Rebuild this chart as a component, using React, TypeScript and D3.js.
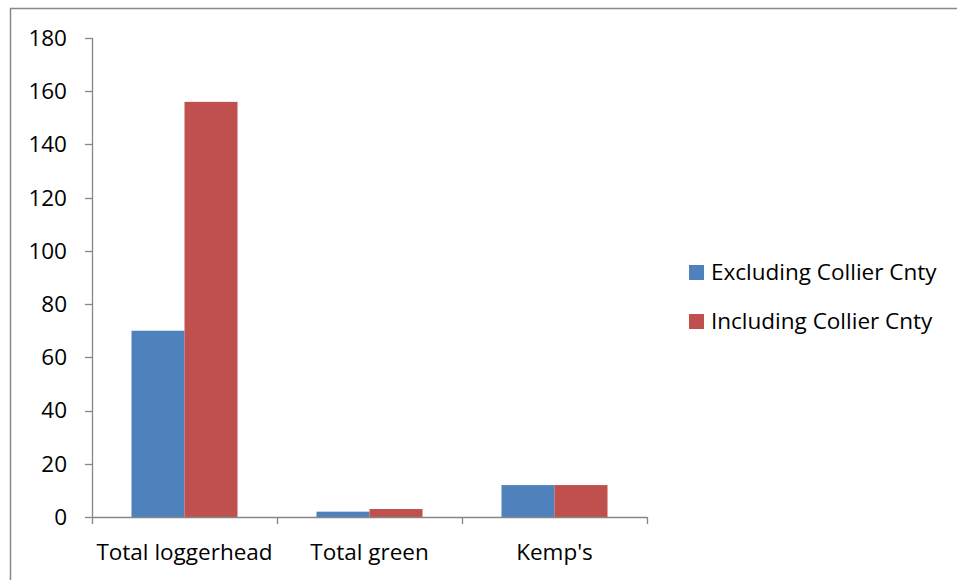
import React, { useRef, useEffect } from 'react';
import * as d3 from 'd3';

const categories = ['Total loggerhead', 'Total green', "Kemp's"];
const seriesNames = ['Excluding Collier Cnty', 'Including Collier Cnty'];
const excluding = [70, 2, 12];
const including = [156, 3, 12];
const yTicks = [0, 20, 40, 60, 80, 100, 120, 140, 160, 180];

const colors = ['#4F81BD', '#C0504D'];
const font = '"Open Sans", sans-serif';
const fontSize = 22.5;

const App: React.FC = () => {
  const svgRef = useRef<SVGSVGElement>(null);

  useEffect(() => {
    if (!svgRef.current) return;
    const width = 957;
    const height = 580;
    const plot = { left: 92, right: 647, top: 38, bottom: 517 };

    const svg = d3.select(svgRef.current)
      .attr('width', width)
      .attr('height', height);
    svg.selectAll('*').remove();

    svg.append('rect').attr('width', width).attr('height', height).attr('fill', '#fff');

    // chart frame (only top and left edges visible)
    svg.append('path')
      .attr('d', `M10.5,${height}V8.5H${width}`)
      .attr('fill', 'none')
      .attr('stroke', '#898989')
      .attr('stroke-width', 1.5);

    const x = d3.scaleBand<string>()
      .domain(categories)
      .range([plot.left, plot.right])
      .paddingInner(0.427)
      .paddingOuter(0.2135);

    const xSub = d3.scaleBand<number>()
      .domain([0, 1])
      .range([0, x.bandwidth()]);

    const y = d3.scaleLinear().domain([0, 180]).range([plot.bottom, plot.top]);

    const series = [excluding, including];

    const bars = svg.append('g');
    series.forEach((vals, si) => {
      bars.selectAll(`rect.s${si}`)
        .data(vals)
        .enter()
        .append('rect')
        .attr('class', `s${si}`)
        .attr('x', (_, i) => (x(categories[i]) as number) + (xSub(si) as number))
        .attr('y', d => y(d))
        .attr('width', xSub.bandwidth())
        .attr('height', d => y(0) - y(d))
        .attr('fill', colors[si]);
    });

    const axisColor = '#868686';

    // y axis
    const yAxis = svg.append('g');
    yAxis.append('line')
      .attr('x1', plot.left + 0.5).attr('x2', plot.left + 0.5)
      .attr('y1', y(180)).attr('y2', y(0))
      .attr('stroke', axisColor).attr('stroke-width', 1.3);
    yAxis.selectAll('line.tick')
      .data(yTicks)
      .enter()
      .append('line')
      .attr('class', 'tick')
      .attr('x1', plot.left - 7).attr('x2', plot.left + 0.5)
      .attr('y1', d => Math.round(y(d)) + 0.5).attr('y2', d => Math.round(y(d)) + 0.5)
      .attr('stroke', axisColor).attr('stroke-width', 1.3);
    yAxis.selectAll('text')
      .data(yTicks)
      .enter()
      .append('text')
      .attr('x', 67)
      .attr('y', d => y(d))
      .attr('dy', '0.35em')
      .attr('text-anchor', 'end')
      .attr('font-family', font)
      .attr('font-size', fontSize)
      .attr('fill', '#000')
      .text(d => d);

    // x axis
    const xAxis = svg.append('g');
    xAxis.append('line')
      .attr('x1', plot.left).attr('x2', plot.right)
      .attr('y1', plot.bottom + 0.5).attr('y2', plot.bottom + 0.5)
      .attr('stroke', axisColor).attr('stroke-width', 1.3);
    const bounds = [...categories.map(c => (x(c) as number) - x.step() * 0.2135), plot.right];
    xAxis.selectAll('line.tick')
      .data(bounds)
      .enter()
      .append('line')
      .attr('class', 'tick')
      .attr('x1', d => Math.round(d) + 0.5).attr('x2', d => Math.round(d) + 0.5)
      .attr('y1', plot.bottom).attr('y2', plot.bottom + 7)
      .attr('stroke', axisColor).attr('stroke-width', 1.3);
    xAxis.selectAll('text')
      .data(categories)
      .enter()
      .append('text')
      .attr('x', d => (x(d) as number) + x.bandwidth() / 2)
      .attr('y', 560)
      .attr('text-anchor', 'middle')
      .attr('font-family', font)
      .attr('font-size', fontSize)
      .attr('fill', '#000')
      .text(d => d);

    // legend
    const legend = svg.append('g');
    seriesNames.forEach((name, i) => {
      const cy = 272 + i * 49;
      legend.append('rect')
        .attr('x', 689).attr('y', cy - 7)
        .attr('width', 15).attr('height', 15)
        .attr('fill', colors[i]);
      legend.append('text')
        .attr('x', 711).attr('y', cy)
        .attr('dy', '0.35em')
        .attr('font-family', font)
        .attr('font-size', fontSize)
        .attr('fill', '#000')
        .text(name);
    });
  }, []);

  return (
    <div style={{ position: 'absolute', left: 0, top: 0 }}>
      <svg ref={svgRef} style={{ display: 'block' }}></svg>
    </div>
  );
};

export default App;
